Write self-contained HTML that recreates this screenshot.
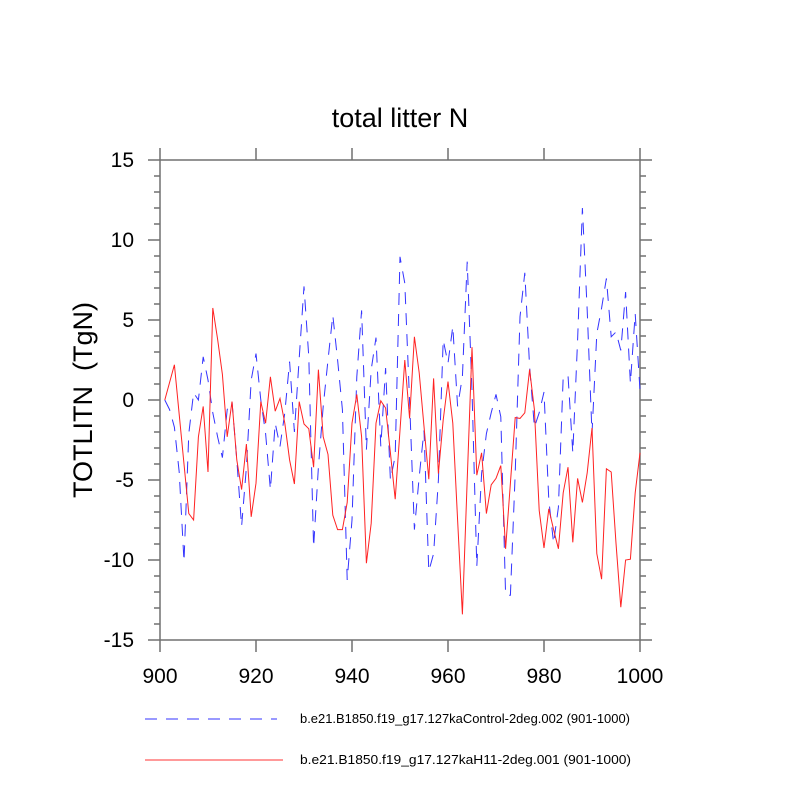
<!DOCTYPE html>
<html><head><meta charset="utf-8"><style>
body{margin:0;background:#fff}
svg text{font-family:"Liberation Sans",sans-serif}
</style></head><body>
<svg id="chart" width="800" height="800" xmlns="http://www.w3.org/2000/svg">
<rect width="800" height="800" fill="#fff"/>
<text x="400" y="127" font-size="27" text-anchor="middle">total litter N</text>
<text transform="translate(92,400) rotate(-90)" font-size="27" text-anchor="middle" style="white-space:pre">TOTLITN  (TgN)</text>
<g id="axes"></g>
<g id="series"></g>
<g>
<line x1="145" y1="719" x2="277" y2="719" stroke="#3333ff" stroke-width="1" stroke-dasharray="12,9"/>
<text x="300" y="723" font-size="12.5" textLength="330" lengthAdjust="spacingAndGlyphs">b.e21.B1850.f19_g17.127kaControl-2deg.002 (901-1000)</text>
<line x1="145" y1="760" x2="283" y2="760" stroke="#ff3333" stroke-width="1"/>
<text x="300" y="764" font-size="12.5" textLength="331" lengthAdjust="spacingAndGlyphs">b.e21.B1850.f19_g17.127kaH11-2deg.001 (901-1000)</text>
</g>
</svg>
<script>
const xTicks = [900, 920, 940, 960, 980, 1000];
const yTicks = [-15, -10, -5, 0, 5, 10, 15];
const startYear = 901;
const controlValues = [0,-0.6,-1.7,-4.5,-10.1,-2.1,0.45,0,2.7,1.25,-0.8,-2.3,-3.6,-0.6,-0.1,-3.75,-7.9,-4.2,1.25,2.9,0,-2.1,-5.6,-1.45,-2.9,-0.8,2.4,-2.0,2.6,7.1,2.7,-9.2,-4.2,-0.4,2.5,5.3,2.5,-0.6,-11.25,-7.5,1.45,5.6,-3.1,1.9,3.9,-2.9,2.0,-5.0,-3.5,8.95,7.3,-0.1,-8.1,-4.8,-1.9,-10.7,-9.6,-5.0,3.75,2.3,4.6,-0.4,1.45,8.65,0.6,-10.4,-4.6,-2.1,-0.8,0.35,-1.05,-12.2,-12.2,-4.6,5.2,7.95,2.1,-1.7,-0.8,0.5,-6.25,-8.95,-6.7,1.45,1.55,-3.3,3.75,12.0,5.6,-2.1,4.15,5.75,7.6,3.95,4.25,3.1,6.75,1.05,5.4,0.6];
const h11Values = [0,1.1,2.2,-0.9,-4.0,-7.1,-7.5,-2.3,-0.4,-4.5,5.75,3.8,1.6,-2.3,-0.1,-3.75,-5.6,-2.75,-7.3,-5.2,-0.1,-1.45,1.45,-0.7,0.1,-1.45,-3.75,-5.25,-0.1,-1.5,-1.8,-4.2,1.9,-2.3,-3.4,-7.2,-8.1,-8.1,-6.4,-1.45,0.35,-2.3,-10.2,-7.7,-1.45,-0.05,-0.5,-3.3,-6.2,-1.9,2.5,-1.15,3.95,1.7,-1.65,-4.95,1.35,-4.6,-1.25,1.15,-1.45,-7.5,-13.4,-5.0,3.3,-4.7,-3.3,-7.1,-5.3,-4.9,-4.1,-9.3,-5.2,-1.1,-1.15,-0.8,1.9,-0.6,-6.9,-9.25,-6.8,-8.1,-9.3,-5.8,-4.2,-8.9,-4.9,-6.4,-4.55,-1.75,-9.6,-11.2,-4.3,-4.5,-8.95,-12.95,-10,-9.95,-5.8,-3.3];

const L=160,R=640,T=160,B=640;
const xS=v=>L+(v-900)/100*(R-L);
const yS=v=>B-(v+15)/30*(B-T);
const NS="http://www.w3.org/2000/svg";
const ax=document.getElementById('axes');
function mk(tag,attrs,parent){const e=document.createElementNS(NS,tag);for(const k in attrs)e.setAttribute(k,attrs[k]);parent.appendChild(e);return e;}
const ac="#707070";
const frame=mk('rect',{x:L,y:T,width:R-L,height:B-T,fill:'none',stroke:ac,'stroke-width':1.5},ax);


for(let v=-15;v<=15;v++){
  const y=yS(v);const major=v%5===0;const len=major?12:6;
  const t1=mk('line',{x1:L-len,y1:y,x2:L,y2:y,stroke:ac,'stroke-width':1.5},ax);
  
  
  const t2=mk('line',{x1:R,y1:y,x2:R+len,y2:y,stroke:ac,'stroke-width':1.5},ax);
  
  
}
yTicks.forEach(v=>{
  const t=mk('text',{x:134,y:yS(v)+7,'font-size':21,'text-anchor':'end'},ax);t.textContent=v;
  
  
});
xTicks.forEach(v=>{
  const x=xS(v);
  const b=mk('line',{x1:x,y1:B,x2:x,y2:B+12,stroke:ac,'stroke-width':1.5},ax);
  
  
  const tp=mk('line',{x1:x,y1:T-12,x2:x,y2:T,stroke:ac,'stroke-width':1.5},ax);
  
  
  const t=mk('text',{x:x,y:683,'font-size':21,'text-anchor':'middle'},ax);t.textContent=v;
  
  
});
const sg=document.getElementById('series');
function pts(arr){return arr.map((v,i)=>xS(startYear+i).toFixed(1)+','+yS(v).toFixed(1)).join(' ');}
const pc=mk('polyline',{points:pts(controlValues),fill:'none',stroke:'#3333ff','stroke-width':1,'stroke-dasharray':'12,9'},sg);


const ph=mk('polyline',{points:pts(h11Values),fill:'none',stroke:'#ff2222','stroke-width':1},sg);


</script>
</body></html>
